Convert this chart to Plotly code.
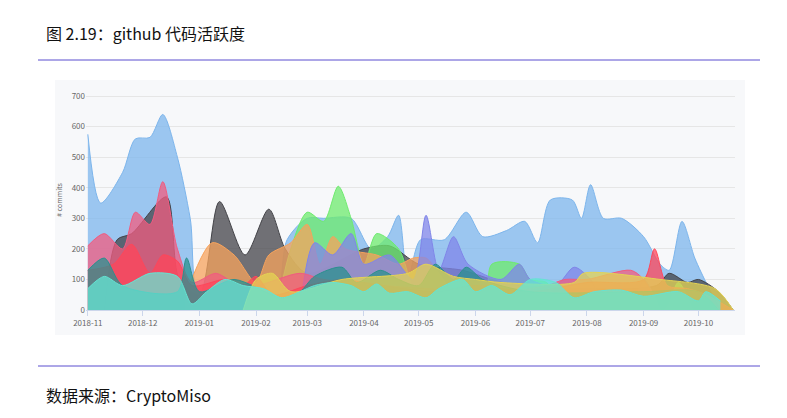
import plotly.graph_objects as go

blue_d = ["2018-11-01","2018-11-08","2018-11-20","2018-11-27","2018-12-05","2018-12-12","2018-12-20","2018-12-27","2019-01-03","2019-02-10","2019-02-18","2019-03-01","2019-03-10","2019-03-25","2019-04-05","2019-04-14","2019-04-20","2019-04-25","2019-05-02","2019-05-15","2019-05-27","2019-06-05","2019-06-18","2019-06-28","2019-07-05","2019-07-12","2019-07-24","2019-07-29","2019-08-03","2019-08-10","2019-08-20","2019-09-01","2019-09-10","2019-09-15","2019-09-22","2019-09-29","2019-10-06","2019-10-13"]
blue_v = [575,350,450,560,565,640,500,300,0,0,230,300,300,300,200,240,310,100,230,230,320,240,260,290,220,360,360,300,410,300,300,240,150,130,290,170,80,0]

gray_d = ["2018-11-10","2018-11-17","2018-11-25","2018-12-14","2018-12-21","2019-01-01","2019-01-12","2019-01-26","2019-02-08","2019-02-17","2019-03-01","2019-04-01","2019-04-15","2019-05-01","2019-05-25","2019-06-10","2019-06-25","2019-09-08","2019-09-15","2019-09-25","2019-10-01","2019-10-12","2019-10-20"]
gray_v = [0,230,250,370,100,50,355,180,330,200,120,200,210,150,130,100,80,80,120,90,100,60,0]

green_d = ["2019-02-12","2019-02-20","2019-03-01","2019-03-10","2019-03-18","2019-03-25","2019-04-01","2019-04-08","2019-04-20","2019-04-26","2019-05-01","2019-06-05","2019-06-10","2019-06-25","2019-07-01","2019-07-10","2019-07-18","2019-09-12","2019-09-20","2019-09-28"]
green_v = [0,200,320,290,405,300,150,250,200,100,0,0,150,150,100,90,0,0,90,0]

orange_d = ["2018-12-24","2019-01-08","2019-01-20","2019-02-01","2019-02-08","2019-02-20","2019-03-01","2019-03-08","2019-03-15","2019-03-22","2019-04-08","2019-04-20","2019-04-28","2019-05-05","2019-05-12","2019-05-25"]
orange_v = [40,220,180,90,180,220,280,150,240,200,180,150,170,170,120,0]

purple_d = ["2019-02-25","2019-03-05","2019-03-15","2019-03-25","2019-04-01","2019-04-15","2019-04-28","2019-05-05","2019-05-12","2019-05-20","2019-05-28","2019-06-15","2019-06-25","2019-07-01","2019-07-15","2019-07-25","2019-08-03","2019-08-12","2019-08-25","2019-09-01","2019-09-10"]
purple_v = [0,220,180,250,150,180,100,310,130,240,150,100,150,100,80,140,100,0,0,100,0]

pink_d = ["2018-11-01","2018-11-10","2018-11-20","2018-11-27","2018-12-05","2018-12-12","2018-12-20","2018-12-28","2019-01-10","2019-01-20","2019-02-01","2019-02-25","2019-03-10","2019-06-15","2019-07-10","2019-07-20","2019-08-01","2019-08-25","2019-09-01","2019-09-10"]
pink_v = [210,250,200,320,280,420,200,90,120,90,80,120,100,60,80,100,100,130,100,0]

red_d = ["2018-11-01","2018-11-15","2018-11-25","2018-12-05","2018-12-12","2018-12-20","2018-12-28","2019-01-15","2019-01-25","2019-02-01","2019-02-10","2019-03-01","2019-03-20","2019-04-01","2019-05-10","2019-06-01","2019-07-01","2019-08-01","2019-09-01","2019-09-07","2019-09-14","2019-09-25","2019-10-05","2019-10-20"]
red_v = [130,150,215,120,180,160,80,100,80,110,50,80,100,90,60,80,60,90,100,200,80,70,50,0]

teal_d = ["2018-11-01","2018-11-10","2018-11-20","2018-12-20","2018-12-25","2019-01-01","2019-01-20","2019-02-15","2019-02-25","2019-03-05","2019-03-20","2019-03-28","2019-04-10","2019-04-20","2019-05-01","2019-05-10","2019-05-20","2019-05-27","2019-06-05","2019-07-01","2019-09-01","2019-10-01","2019-10-12"]
teal_v = [130,170,80,60,170,60,100,40,60,110,140,90,130,100,80,150,100,140,100,60,60,60,0]

yellow_d = ["2019-01-25","2019-02-01","2019-02-10","2019-02-20","2019-03-20","2019-04-25","2019-05-05","2019-05-20","2019-06-01","2019-06-15","2019-07-25","2019-07-30","2019-09-10","2019-10-10","2019-10-20"]
yellow_v = [0,100,120,60,100,120,150,110,100,90,90,120,100,70,0]

cyan_d = ["2018-11-01","2018-11-10","2018-11-20","2018-12-05","2018-12-20","2018-12-28","2019-01-05","2019-01-15","2019-01-25","2019-02-05","2019-02-15","2019-02-25","2019-03-05","2019-03-15","2019-03-25","2019-04-01","2019-04-08","2019-04-15","2019-04-25","2019-05-05","2019-05-12","2019-05-25","2019-06-01","2019-06-10","2019-06-20","2019-07-01","2019-07-15","2019-07-25","2019-08-05","2019-08-20","2019-09-01","2019-09-20","2019-10-01","2019-10-05","2019-10-13"]
cyan_v = [70,110,80,120,110,20,60,100,80,70,40,60,80,90,80,60,85,55,60,40,70,100,60,80,50,100,90,40,60,65,45,60,30,60,30]

series = [
    (blue_d, blue_v, "124,181,236"),
    (gray_d, gray_v, "67,67,72"),
    (green_d, green_v, "110,235,110"),
    (orange_d, orange_v, "247,163,92"),
    (purple_d, purple_v, "128,133,233"),
    (pink_d, pink_v, "241,92,128"),
    (red_d, red_v, "255,70,90"),
    (teal_d, teal_v, "43,144,143"),
    (yellow_d, yellow_v, "228,211,84"),
    (cyan_d, cyan_v, "100,229,212"),
]

fig = go.Figure()
for d, v, c in series:
    fig.add_trace(go.Scatter(x=d, y=v, mode="lines", fill="tozeroy",
                             line=dict(shape="spline", smoothing=0.8, color=f"rgba({c},1)", width=1),
                             fillcolor=f"rgba({c},0.75)", hoverinfo="skip"))

def fy(py):
    return (310 - py) / 220
def fx(px):
    return (px - 86) / 649

fig.update_layout(
    width=787, height=418, showlegend=False,
    margin=dict(l=78, r=60, t=82, b=116),
    paper_bgcolor="white", plot_bgcolor="rgba(0,0,0,0)",
    font=dict(family="Noto Sans CJK SC", color="#333"),
    xaxis=dict(type="date", range=["2018-10-31", "2019-10-21"], dtick="M1", tickformat="%Y-%m",
               tickfont=dict(size=8, color="#666"), showgrid=False, showline=True, linecolor="#ccd6eb",
               ticks="outside", tickcolor="#ccd6eb", ticklen=5),
    yaxis=dict(range=[0, 720], tickvals=[0,100,200,300,400,500,600,700], tickfont=dict(size=8, color="#666"),
               gridcolor="#e6e6e6", zeroline=False,
               title=dict(text="# commits", font=dict(size=7, color="#666"), standoff=8)),
    shapes=[
        dict(type="rect", xref="paper", yref="paper", x0=fx(55), x1=fx(745), y0=fy(335), y1=fy(80),
             fillcolor="#f7f8fa", line=dict(width=0), layer="below"),
        dict(type="line", xref="paper", yref="paper", x0=fx(38), x1=fx(760), y0=fy(60), y1=fy(60),
             line=dict(color="#5a4fcf", width=1)),
        dict(type="line", xref="paper", yref="paper", x0=fx(38), x1=fx(760), y0=fy(366), y1=fy(366),
             line=dict(color="#5a4fcf", width=1)),
    ],
    annotations=[
        dict(text="图 2.19：github 代码活跃度", xref="paper", yref="paper", x=fx(44), y=fy(33),
             xanchor="left", yanchor="middle", showarrow=False, font=dict(size=16, color="#111")),
        dict(text="数据来源：CryptoMiso", xref="paper", yref="paper", x=fx(44), y=fy(395),
             xanchor="left", yanchor="middle", showarrow=False, font=dict(size=16, color="#111")),
    ],
)
fig.write_html("out.html")
